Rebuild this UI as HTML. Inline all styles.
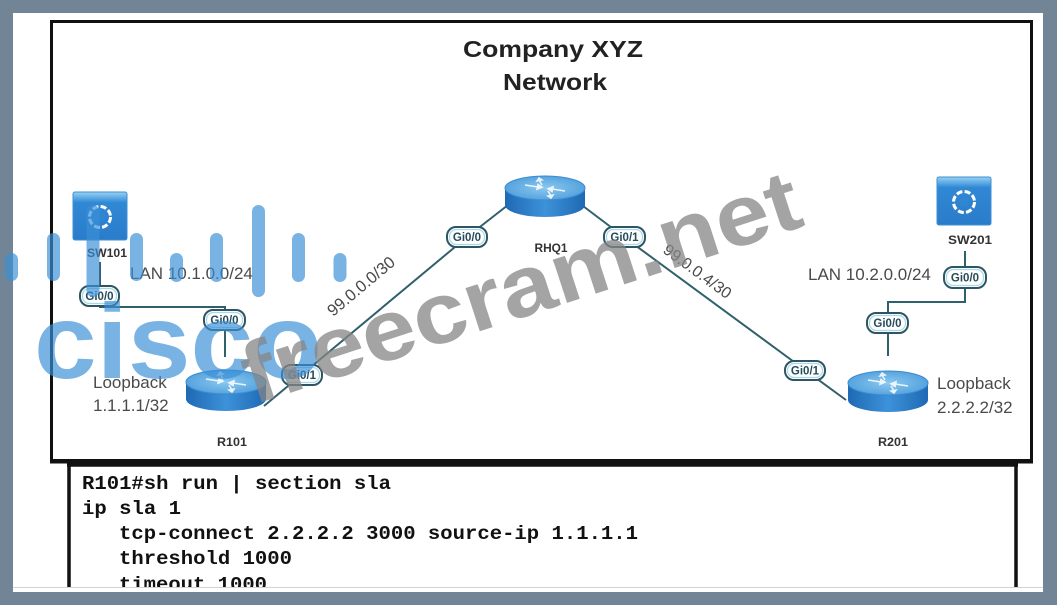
<!DOCTYPE html>
<html><head><meta charset="utf-8"><style>
html,body{margin:0;padding:0;background:#728596;}
svg{display:block}
</style></head><body>
<svg width="1057" height="605" viewBox="0 0 1057 605" xmlns="http://www.w3.org/2000/svg">
<defs>
 <linearGradient id="side" x1="0" x2="1" y1="0" y2="0">
  <stop offset="0" stop-color="#1e69b4"/><stop offset="0.5" stop-color="#3d92d9"/><stop offset="1" stop-color="#1e69b4"/>
 </linearGradient>
 <radialGradient id="topg" cx="0.5" cy="0.5" r="0.6">
  <stop offset="0" stop-color="#8ac8ef"/><stop offset="1" stop-color="#4c9cdb"/>
 </radialGradient>
 <linearGradient id="sw" x1="0" y1="0" x2="0" y2="1">
  <stop offset="0" stop-color="#9ad2f2"/><stop offset="0.12" stop-color="#5eaae4"/><stop offset="0.22" stop-color="#3088d5"/><stop offset="1" stop-color="#2a7cca"/>
 </linearGradient>
 <clipPath id="codeclip"><rect x="0" y="0" width="1057" height="587"/></clipPath>
 <g id="router">
  <path d="M-40,0 V17 A40,12 0 0 0 40,17 V0 Z" fill="url(#side)"/>
  <ellipse cx="0" cy="0" rx="40" ry="12" fill="url(#topg)" stroke="#3a8bd0" stroke-width="1"/>
  <g stroke="#fff" stroke-width="1.6" fill="#fff" opacity="0.85">
   <path d="M-20,-3 L-7,-1" fill="none"/><path d="M-7,-3.5 L-3,-0.8 L-8,1.2 Z"/>
   <path d="M20,3 L7,1" fill="none"/><path d="M7,3.5 L3,0.8 L8,-1.2 Z"/>
   <path d="M-3,-3 L-6,-8" fill="none"/><path d="M-8,-7 L-6,-10 L-3,-8 Z"/>
   <path d="M3,3 L6,8" fill="none"/><path d="M8,7 L6,10 L3,8 Z"/>
  </g>
 </g>
 <g id="switch">
  <rect x="0" y="0" width="54" height="48" rx="2" fill="url(#sw)" stroke="#3f8fd2" stroke-width="1"/>
  <circle cx="27" cy="25" r="10.5" fill="none" stroke="#fff" stroke-width="3" stroke-dasharray="6 2.3"/>
  <circle cx="27" cy="25" r="5" fill="#2f86d3"/>
 </g>
</defs>

<rect width="1057" height="605" fill="#728596"/>
<rect x="13" y="13" width="1030" height="579" fill="#fff"/>
<line x1="13" y1="587.5" x2="1043" y2="587.5" stroke="#d3d3d3" stroke-width="1"/>

<!-- diagram frame -->
<rect x="51.5" y="21.5" width="980" height="439" fill="none" stroke="#111" stroke-width="3"/>
<line x1="50" y1="462" x2="1033" y2="462" stroke="#111" stroke-width="3"/>

<!-- code box -->
<g clip-path="url(#codeclip)">
 <line x1="67" y1="465" x2="1018" y2="465" stroke="#111" stroke-width="3.5"/>
 <line x1="69" y1="464" x2="69" y2="600" stroke="#111" stroke-width="3.5"/>
 <line x1="1016" y1="464" x2="1016" y2="600" stroke="#111" stroke-width="3.5"/>
 <g font-family="Liberation Mono, monospace" font-weight="bold" font-size="19.5" fill="#111">
  <text x="82" y="489" textLength="309" lengthAdjust="spacingAndGlyphs">R101#sh run | section sla</text>
  <text x="82" y="514" textLength="99" lengthAdjust="spacingAndGlyphs">ip sla 1</text>
  <text x="119" y="539" textLength="519" lengthAdjust="spacingAndGlyphs">tcp-connect 2.2.2.2 3000 source-ip 1.1.1.1</text>
  <text x="119" y="564" textLength="173" lengthAdjust="spacingAndGlyphs">threshold 1000</text>
  <text x="119" y="590" textLength="148" lengthAdjust="spacingAndGlyphs">timeout 1000</text>
 </g>
</g>

<!-- title -->
<g font-family="Liberation Sans, sans-serif" font-weight="bold" font-size="23" fill="#222" text-anchor="middle">
 <text x="553" y="57" textLength="180" lengthAdjust="spacingAndGlyphs">Company XYZ</text>
 <text x="555" y="90" textLength="104" lengthAdjust="spacingAndGlyphs">Network</text>
</g>

<!-- connectors -->
<g stroke="#31606d" stroke-width="2" fill="none">
 <path d="M100,262 V286"/>
 <path d="M100,306 V307 H225 V311"/>
 <path d="M225,330 V357"/>
 <path d="M264,406 L467,237"/>
 <path d="M467,237 L508,205"/>
 <path d="M583,206 L624,237 L805,370 L846,400"/>
 <path d="M888,356 V333"/>
 <path d="M888,313 V302 H965 V288"/>
 <path d="M965,267 V251"/>
</g>

<!-- devices -->
<use href="#switch" x="73" y="192"/>
<use href="#switch" x="937" y="177"/>
<use href="#router" x="226" y="382"/>
<use href="#router" x="545" y="188"/>
<use href="#router" x="888" y="383"/>

<!-- pills -->
<g stroke="#2e5563" stroke-width="2" fill="#fff">
 <rect x="80" y="286" width="39" height="20" rx="9"/>
 <rect x="204" y="310" width="41" height="20" rx="9"/>
 <rect x="282" y="365" width="40" height="20" rx="9"/>
 <rect x="447" y="227" width="40" height="20" rx="9"/>
 <rect x="604" y="227" width="41" height="20" rx="9"/>
 <rect x="785" y="361" width="40" height="19" rx="9"/>
 <rect x="867" y="313" width="41" height="20" rx="9"/>
 <rect x="944" y="267" width="42" height="21" rx="9"/>
</g>
<g stroke="#a9d9e8" stroke-width="1.2" fill="none">
 <rect x="82.5" y="288.5" width="34" height="15" rx="7"/>
 <rect x="206.5" y="312.5" width="36" height="15" rx="7"/>
 <rect x="284.5" y="367.5" width="35" height="15" rx="7"/>
 <rect x="449.5" y="229.5" width="35" height="15" rx="7"/>
 <rect x="606.5" y="229.5" width="36" height="15" rx="7"/>
 <rect x="787.5" y="363.5" width="35" height="14" rx="7"/>
 <rect x="869.5" y="315.5" width="36" height="15" rx="7"/>
 <rect x="946.5" y="269.5" width="37" height="16" rx="7"/>
</g>
<g font-family="Liberation Sans, sans-serif" font-weight="bold" font-size="11.5" fill="#264c5a" text-anchor="middle">
 <text x="99.5" y="300">Gi0/0</text>
 <text x="224.5" y="324">Gi0/0</text>
 <text x="302" y="379">Gi0/1</text>
 <text x="467" y="241">Gi0/0</text>
 <text x="624.5" y="241">Gi0/1</text>
 <text x="805" y="374.5">Gi0/1</text>
 <text x="887.5" y="327">Gi0/0</text>
 <text x="965" y="281.5">Gi0/0</text>
</g>

<!-- node labels -->
<g font-family="Liberation Sans, sans-serif" font-weight="bold" font-size="11.5" fill="#333" text-anchor="middle">
 <text x="107" y="257" textLength="40" lengthAdjust="spacingAndGlyphs">SW101</text>
 <text x="970" y="244" textLength="44" lengthAdjust="spacingAndGlyphs">SW201</text>
 <text x="232" y="446" textLength="30" lengthAdjust="spacingAndGlyphs">R101</text>
 <text x="551" y="252" textLength="33" lengthAdjust="spacingAndGlyphs">RHQ1</text>
 <text x="893" y="446" textLength="30" lengthAdjust="spacingAndGlyphs">R201</text>
</g>

<!-- gray labels -->
<g font-family="Liberation Sans, sans-serif" font-size="17" fill="#4a4a4a">
 <text x="130" y="279">LAN 10.1.0.0/24</text>
 <text x="808" y="280">LAN 10.2.0.0/24</text>
 <text x="93" y="388">Loopback</text>
 <text x="93" y="411">1.1.1.1/32</text>
 <text x="937" y="389">Loopback</text>
 <text x="937" y="413">2.2.2.2/32</text>
 <text x="333" y="317" font-size="16.5" transform="rotate(-40 333 317)">99.0.0.0/30</text>
 <text x="662" y="252" font-size="16" transform="rotate(36.3 662 252)">99.0.0.4/30</text>
</g>

<!-- cisco watermark -->
<g fill="#3a8fd6" fill-opacity="0.68">
 <rect x="5" y="253" width="13" height="28" rx="6.5"/>
 <rect x="47" y="233" width="13" height="48" rx="6.5"/>
 <rect x="86.5" y="205" width="13" height="92" rx="6.5"/>
 <rect x="130" y="233" width="13" height="48" rx="6.5"/>
 <rect x="170" y="253" width="13" height="29" rx="6.5"/>
 <rect x="210" y="233" width="13" height="49" rx="6.5"/>
 <rect x="252" y="205" width="13" height="92" rx="6.5"/>
 <rect x="292" y="233" width="13" height="49" rx="6.5"/>
 <rect x="333.5" y="253" width="13" height="29" rx="6.5"/>
 <text x="34" y="378" font-family="Liberation Sans, sans-serif" font-weight="bold" font-size="106" textLength="288" lengthAdjust="spacingAndGlyphs">cisco</text>
</g>

<!-- freecram watermark -->
<text x="253" y="405" transform="rotate(-18 253 405)" font-family="Liberation Sans, sans-serif" font-weight="bold" font-size="86" textLength="582" lengthAdjust="spacingAndGlyphs" fill="#868686" fill-opacity="0.75">freecram.net</text>
</svg>
</body></html>
